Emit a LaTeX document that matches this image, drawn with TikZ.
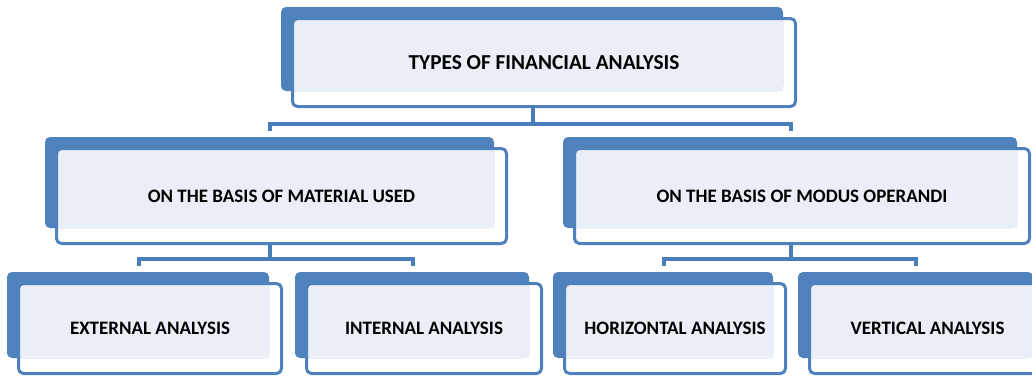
\documentclass[tikz,border=0pt]{standalone}
\usepackage{fontspec}
\setmainfont{Carlito}
\usetikzlibrary{backgrounds}

\definecolor{boxblue}{HTML}{4F81BD}
\definecolor{boxlight}{HTML}{EAEFF7}
\definecolor{linkblue}{HTML}{4A7EBB}

\tikzset{
  front/.style={draw=boxblue, line width=3pt, rounded corners=5pt, align=center,
    font=\fontsize{19}{22}\selectfont\bfseries},
  link/.style={draw=linkblue, line width=4pt},
}

\begin{document}
\begin{tikzpicture}[x=1pt,y=-1pt]
\useasboundingbox (0,0) rectangle (1032,376);
\clip (0,0) rectangle (1032,376);

\node[front, minimum width=503pt, minimum height=88pt, font=\fontsize{21.3}{24}\selectfont\bfseries] (types) at (544,62.5) {TYPES OF FINANCIAL ANALYSIS};

\node[front, minimum width=450pt, minimum height=95pt] (material) at (281.5,196) {ON THE BASIS OF MATERIAL USED};
\node[front, minimum width=455pt, minimum height=95pt] (modus) at (802,196) {ON THE BASIS OF MODUS OPERANDI};

\node[front, minimum width=263pt, minimum height=90pt] (external) at (150,328.5) {EXTERNAL ANALYSIS};
\node[front, minimum width=235pt, minimum height=90pt] (internal) at (424,328.5) {INTERNAL ANALYSIS};
\node[front, minimum width=221pt, minimum height=90pt] (horizontal) at (675,328.5) {HORIZONTAL ANALYSIS};
\node[front, minimum width=236pt, minimum height=90pt] (vertical) at (927.5,328.5) {VERTICAL ANALYSIS};

% blue tab behind each box
\begin{scope}[on background layer]
\clip (0,0) rectangle (1032,376);
\foreach \b in {types,material,modus,external,internal,horizontal,vertical}{
  \fill[boxblue, rounded corners=5pt] ([shift={(-10,-10)}]\b.north west) rectangle ([shift={(-14,-17)}]\b.south east);
  \fill[boxlight] ([shift={(2,2)}]\b.north west) rectangle ([shift={(-14,-17)}]\b.south east);
}
\end{scope}

% connectors
\coordinate (typesfork) at ([shift={(-11.5,15.5)}]types.south);
\draw[link] ([xshift=-11.5pt]types.south) -- (typesfork);
\draw[link] ([shift={(-11.5,-16)}]material.north) |- (typesfork) -| ([shift={(-11.5,-16)}]modus.north);

\coordinate (materialfork) at ([shift={(-11.5,14)}]material.south);
\draw[link] ([xshift=-11.5pt]material.south) -- (materialfork);
\draw[link] ([shift={(-11.5,-16)}]external.north) |- (materialfork) -| ([shift={(-11.5,-16)}]internal.north);

\coordinate (modusfork) at ([shift={(-11.5,14)}]modus.south);
\draw[link] ([xshift=-11.5pt]modus.south) -- (modusfork);
\draw[link] ([shift={(-11.5,-16)}]horizontal.north) |- (modusfork) -| ([shift={(-11.5,-16)}]vertical.north);

\end{tikzpicture}
\end{document}
